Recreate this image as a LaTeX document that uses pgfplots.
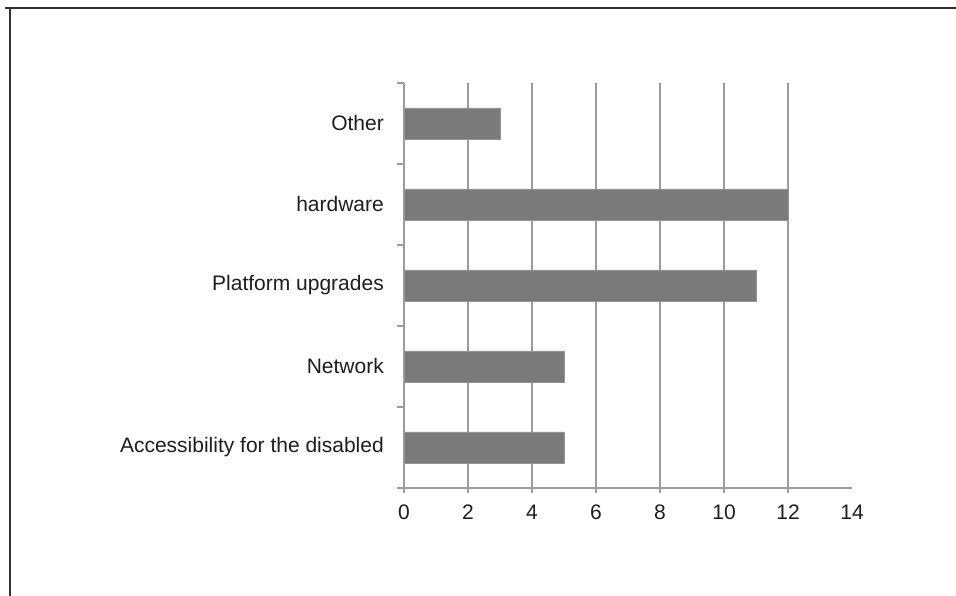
\documentclass[border=0pt]{standalone}
\usepackage{pgfplots}
\pgfplotsset{compat=1.18}
\usepackage{fontspec}
\setmainfont{Liberation Sans}
\definecolor{barc}{HTML}{7A7A7C}
\definecolor{gridc}{HTML}{9C9C9C}
\definecolor{framec}{HTML}{303030}
\definecolor{txt}{HTML}{1E1E1E}
\begin{document}
\begin{tikzpicture}[x=1bp,y=1bp]
\path[use as bounding box] (0,0) rectangle (956,596);
\fill[white] (0,0) rectangle (956,596);
\draw[line width=2bp, color=framec] (5,588) -- (956,588);
\draw[line width=2bp, color=framec] (10,589) -- (10,0);
\begin{axis}[
  at={(404bp,108bp)}, anchor=south west,
  scale only axis, width=448bp, height=405bp,
  xbar, bar width=31bp,
  xmin=0, xmax=14, ymin=-0.5, ymax=4.5,
  axis x line*=bottom, axis y line*=left,
  axis line style={-, gridc, line width=1.5bp},
  xtick={0,2,...,12},
  extra x ticks={14},
  extra x tick style={grid=none, major tick length=0pt, xticklabel style={yshift=-5bp}},
  xmajorgrids,
  major grid style={gridc, line width=1.5bp},
  ytick={0,1,2,3,4},
  yticklabels={Accessibility for the disabled, Network, Platform upgrades, hardware, Other},
  minor ytick={-0.5,0.5,...,4.5},
  tick align=outside,
  major tick length=5bp,
  minor tick length=7bp,
  every tick/.style={gridc, line width=1.5bp},
  every major y tick/.append style={draw=none},
  /pgf/number format/assume math mode=true,
  tick label style={font=\fontsize{21bp}{25bp}\selectfont, text=txt},
  xticklabel style={inner sep=0pt, yshift=-12bp},
  yticklabel style={inner sep=0pt, xshift=-15bp},
]
\addplot[fill=barc, draw=barc!80!white, line width=0.6bp] coordinates {(5,0) (5,1) (11,2) (12,3) (3,4)};
\end{axis}
\end{tikzpicture}
\end{document}
